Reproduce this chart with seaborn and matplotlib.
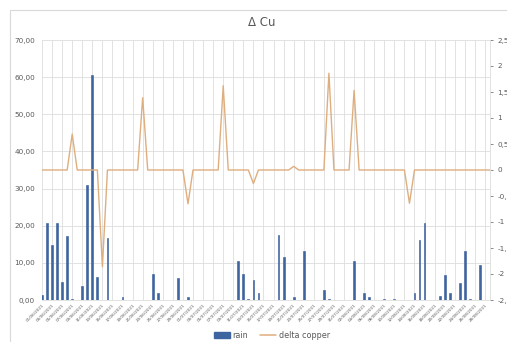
import matplotlib
matplotlib.use("Agg")
import matplotlib.pyplot as plt
from matplotlib.patches import Rectangle
from matplotlib.lines import Line2D
from matplotlib.ticker import FixedLocator, FuncFormatter
import numpy as np
import pandas as pd
import seaborn as sns
from datetime import date, timedelta

# daily rain (mm) and change in copper level
rain_days = [0, 1, 2, 3, 4, 5, 6, 8, 9, 10, 11, 13, 16, 22, 23, 27, 29,
             39, 40, 41, 42, 43, 47, 48, 50, 52, 56, 57, 62, 64, 65, 68, 70,
             74, 75, 76, 79, 80, 81, 83, 84, 85, 87]
rain_mm = [1.4, 20.6, 14.8, 20.6, 4.9, 17.1, 0.2, 3.7, 31.0, 60.5, 6.3, 16.8, 0.9, 6.9, 1.9, 5.9, 0.7,
           10.5, 6.9, 0.2, 5.3, 2.0, 17.5, 11.6, 0.7, 13.3, 2.7, 0.3, 10.6, 1.8, 0.9, 0.4, 0.3,
           1.9, 16.2, 20.8, 1.1, 6.7, 1.8, 4.7, 13.1, 0.3, 9.3]
cu_days = [6, 12, 20, 29, 36, 42, 50, 57, 62, 73]
cu_delta = [0.69, -1.86, 1.39, -0.65, 1.62, -0.26, 0.07, 1.86, 1.53, -0.64]

n_days = 90
start = date(2021, 6, 1)
day_labels = [(start + timedelta(days=i)).strftime("%d/%m/%Y") for i in range(n_days)]

rain = np.zeros(n_days)
rain[rain_days] = rain_mm
delta = np.zeros(n_days)
delta[cu_days] = cu_delta
df = pd.DataFrame({"day": np.arange(n_days), "rain": rain, "delta copper": delta})

sns.set_theme(style="white")
plt.rcParams["font.family"] = ["DejaVu Sans"]

W, H = 507, 342
fig = plt.figure(figsize=(W / 100, H / 100), dpi=100)
fig.patch.set_facecolor("white")

# chart frame
fig.patches.append(Rectangle((10 / W, -0.2), 1.2, 1 - 10 / H + 0.2, transform=fig.transFigure,
                             fill=False, edgecolor="#D9D9D9", linewidth=0.8))

left, right, bottom, top = 42, 490, 300, 40
ax = fig.add_axes([left / W, 1 - bottom / H, (right - left) / W, (bottom - top) / H])
ax.set_facecolor("none")

grid_c = "#DDDDDD"
text_c = "#595959"
bar_c = "#3F65A0"
line_c = "#DFAE7E"

sns.barplot(data=df, x="day", y="rain", native_scale=True, color=bar_c,
            width=0.36, ax=ax, saturation=1, zorder=3, edgecolor=bar_c, linewidth=0.45)
ax.set_xlim(0, n_days - 1)
ax.set_ylim(0, 70)
ax.yaxis.set_major_locator(FixedLocator(np.arange(0, 71, 10)))
ax.yaxis.set_major_formatter(FuncFormatter(lambda v, p: f"{v:.2f}".replace(".", ",")))
ax.tick_params(axis="y", labelsize=5.2, colors=text_c, length=0, pad=5)
ax.xaxis.set_major_locator(FixedLocator(np.arange(0, n_days, 2)))
ax.set_xticklabels(day_labels[::2], rotation=45, ha="right", rotation_mode="anchor",
                   fontsize=3.0, color=text_c)
ax.tick_params(axis="x", length=0, pad=2.5)
ax.grid(True, axis="both", color=grid_c, linewidth=0.6, zorder=0)
ax.set_axisbelow(True)
for s in ["top", "left", "right"]:
    ax.spines[s].set_visible(False)
ax.spines["bottom"].set_color(grid_c)
ax.spines["bottom"].set_linewidth(0.6)
ax.set_xlabel("")
ax.set_ylabel("")

ax2 = ax.twinx()
sns.lineplot(data=df, x="day", y="delta copper", color=line_c, linewidth=1.0, ax=ax2)
ax2.set_ylim(-2.5, 2.5)
ax2.yaxis.set_major_locator(FixedLocator(np.arange(-2.5, 2.51, 0.5)))
ax2.yaxis.set_major_formatter(FuncFormatter(lambda v, p: f"{v:g}".replace(".", ",")))
ax2.tick_params(axis="y", labelsize=5.2, colors=text_c, length=2.5, width=0.5, pad=3)
for t in ax2.get_yticklines():
    t.set_color("#BFBFBF")
for s in ["top", "left", "bottom"]:
    ax2.spines[s].set_visible(False)
ax2.spines["right"].set_color(grid_c)
ax2.spines["right"].set_linewidth(0.6)
ax2.set_xlabel("")
ax2.set_ylabel("")
ax2.set_xlim(0, n_days - 1)

fig.text(262 / W, 1 - 23 / H, "Δ Cu", ha="center", va="center", fontsize=8.5, color=text_c)

handles = [Rectangle((0, 0), 1, 1, color=bar_c),
           Line2D([0], [0], color=line_c, linewidth=1.1)]
fig.legend(handles, ["rain", "delta copper"], loc="center", bbox_to_anchor=(272 / W, 1 - 335 / H),
           ncol=2, frameon=False, fontsize=5.8, labelcolor=text_c, handlelength=2.0,
           handleheight=0.7, columnspacing=1.5, handletextpad=0.3)

fig.savefig("out.png", dpi=100, facecolor="white")
